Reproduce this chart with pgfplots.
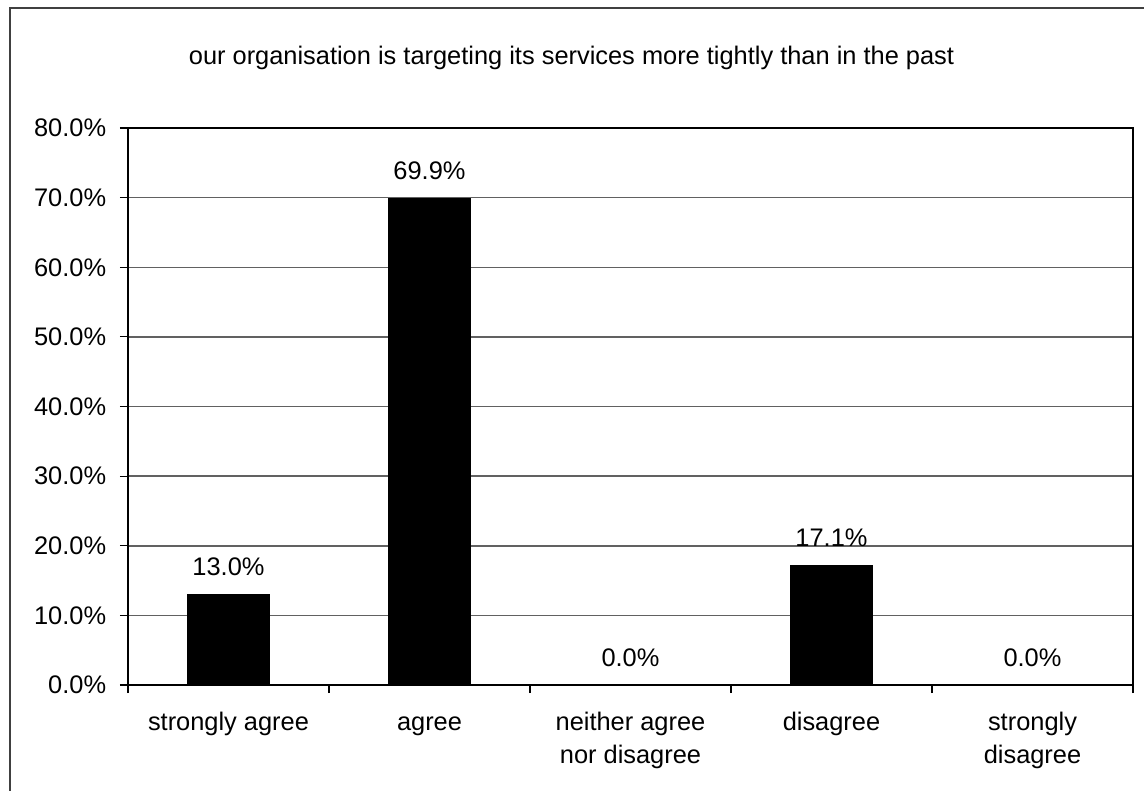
\documentclass[border=0pt]{standalone}
\usepackage{pgfplots}
\pgfplotsset{compat=1.18}
\usepackage{fontspec}
\setmainfont{Liberation Sans}
\begin{document}
\fontsize{12.7}{16.5}\selectfont
\begin{tikzpicture}
\useasboundingbox (0,0) rectangle (572pt,-395.5pt);
\draw[line width=0.75pt, black!75] (5pt,-400pt) -- (5pt,-4pt) -- (580pt,-4pt);
\node[font=\fontsize{12.7}{16.5}\selectfont] at (285.75pt,-29pt) {our organisation is targeting its services more tightly than in the past};
\begin{axis}[
  scale only axis,
  width=502.5pt, height=278.5pt,
  at={(64pt,-342.5pt)}, anchor=south west,
  ybar, bar width=41pt,
  xmin=-0.5, xmax=4.5,
  ymin=0, ymax=80,
  xtick={-0.5,0.5,1.5,2.5,3.5,4.5},
  x tick label as interval,
  xticklabels={\strut strongly agree,\strut agree,{\strut neither agree\\nor disagree},\strut disagree,{\strut strongly\\disagree}},
  xticklabel style={align=center, font=\fontsize{12.7}{16.5}\selectfont, yshift=-3pt},
  ytick={0,10,...,80},
  yticklabels={0.0\%,10.0\%,20.0\%,30.0\%,40.0\%,50.0\%,60.0\%,70.0\%,80.0\%},
  yticklabel style={font=\fontsize{12.7}{16.5}\selectfont, xshift=-2.5pt},
  tick pos=left,
  tick align=outside,
  major tick length=4pt,
  tick style={black, line width=0.6pt},
  ymajorgrids,
  major grid style={black!62, line width=0.75pt},
  axis line style={black, line width=1pt},
  /pgf/number format/assume math mode=true,
  nodes near coords={\pgfmathprintnumber[fixed,fixed zerofill,precision=1]{\pgfplotspointmeta}\%},
  every node near coord/.append style={font=\fontsize{12.7}{16.5}\selectfont, anchor=base, inner sep=0pt, yshift=9.5pt, black},
]
\addplot[fill=black, draw=black, line width=0.5pt] coordinates {(0,13.0) (1,69.9) (2,0.0) (3,17.1) (4,0.0)};
\end{axis}
\end{tikzpicture}
\end{document}
